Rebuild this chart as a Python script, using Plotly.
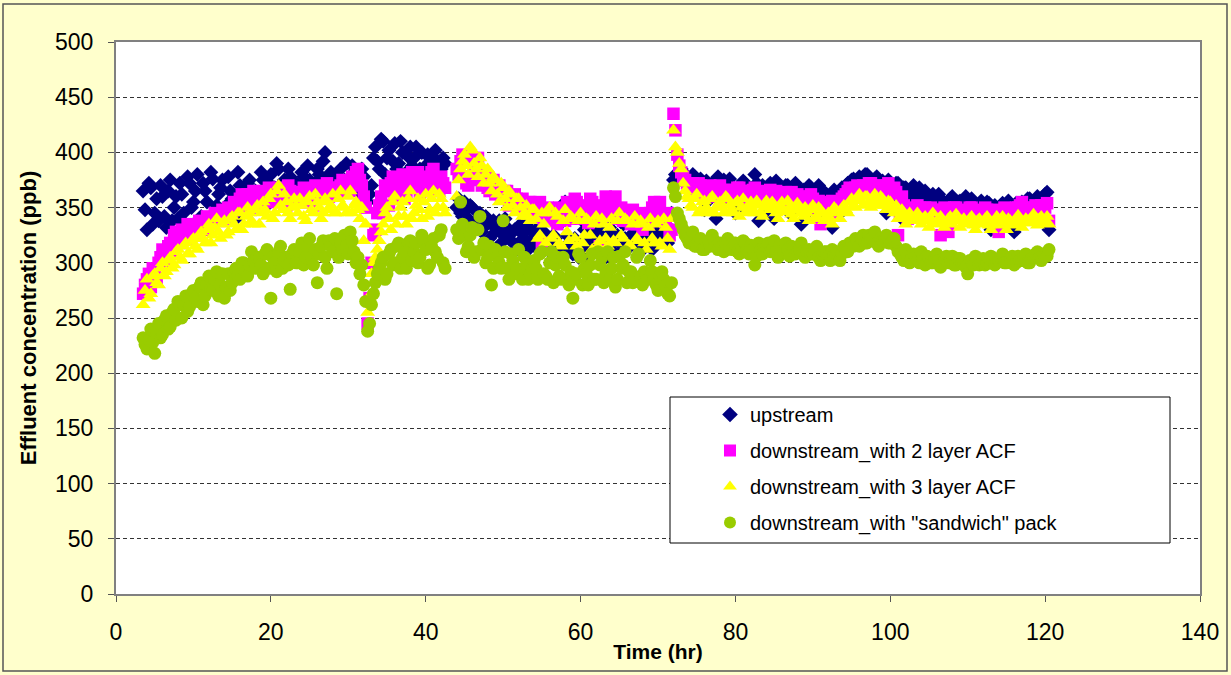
import numpy as np
import plotly.graph_objects as go

# Two sampling runs, 0.25 h apart: "a" readings on the half hour grid, "b" readings
# a quarter hour later.  Run 1 starts at 3.5 h, run 2 at 44.0 h.
RUN1_START = 3.5
RUN2_START = 44.0
STEP = 0.5
OFFSET = 0.25

# ---- upstream (ppb) ----
upstream_run1_a = [
    365, 330, 368, 345, 338, 360, 332, 375, 350, 340,
    362, 335, 372, 355, 380, 342, 365, 338, 376, 352,
    368, 345, 378, 358, 340, 370, 355, 372, 348, 365,
    360, 375, 352, 380, 368, 385, 372, 360, 378, 355,
    370, 382, 365, 375, 360, 385, 372, 400, 368, 378,
    362, 385, 375, 368, 388, 380, 372, 378, 355, 370,
    405, 385, 410, 395, 375, 408, 390, 400, 382, 405,
    395, 378, 400, 388, 395, 380, 392, 385, 390,
]
upstream_run1_b = [
    348, 372, 335, 358, 370, 342, 365, 338, 360, 372,
    345, 378, 350, 365, 340, 372, 355, 382, 345, 362,
    375, 352, 365, 345, 382, 360, 348, 375, 362, 352,
    382, 365, 372, 358, 390, 360, 375, 385, 365, 372,
    362, 378, 388, 355, 372, 380, 392, 375, 382, 365,
    378, 368, 390, 372, 382, 365, 385, 368, 362, 395,
    392, 412, 380, 402, 392, 385, 410, 378, 396, 388,
    405, 385, 375, 398, 385, 402, 378, 395,
]
upstream_run2_a = [
    350, 345, 355, 340, 350, 338, 345, 332, 340, 335,
    328, 338, 325, 332, 320, 330, 318, 326, 335, 315,
    322, 312, 340, 318, 310, 325, 345, 305, 355, 318,
    308, 348, 312, 330, 305, 325, 315, 335, 310, 320,
    328, 308, 318, 335, 312, 325, 340, 315, 322, 338,
    318, 330, 345, 325, 335, 330, 375, 380, 385, 378,
    372, 380, 365, 376, 348, 370, 372, 340, 368, 375,
    358, 370, 345, 368, 374, 352, 365, 380, 338, 370,
    362, 372, 340, 368, 360, 370, 345, 365, 368, 335,
    362, 370, 355, 366, 340, 364, 358, 332, 360, 365,
    348, 372, 375, 360, 378, 368, 380, 372, 376, 365,
    374, 345, 370, 366, 372, 340, 368, 364, 370, 362,
    358, 365, 355, 362, 352, 358, 335, 355, 360, 350,
    356, 348, 354, 358, 345, 352, 350, 355, 330, 352,
    348, 354, 345, 350, 328, 352, 355, 348, 358, 352,
    360, 355, 362, 330,
]
upstream_run2_b = [
    358, 342, 348, 352, 335, 345, 328, 342, 322, 338,
    332, 318, 340, 322, 328, 312, 335, 322, 312, 328,
    330, 318, 328, 345, 315, 322, 310, 338, 325, 312,
    322, 305, 338, 318, 345, 310, 328, 322, 305, 332,
    318, 325, 310, 322, 345, 318, 330, 310, 335, 325,
    312, 338, 322, 340, 318, 345, 380, 376, 382, 370,
    365, 378, 370, 362, 374, 358, 366, 378, 355, 368,
    376, 362, 368, 350, 372, 366, 358, 372, 364, 345,
    370, 358, 374, 362, 352, 370, 364, 372, 358, 366,
    345, 368, 362, 370, 356, 362, 348, 366, 352, 368,
    370, 362, 376, 372, 365, 380, 374, 368, 378, 372,
    368, 375, 360, 372, 364, 368, 360, 365, 356, 368,
    362, 350, 360, 345, 362, 356, 350, 358, 345, 355,
    352, 360, 338, 355, 350, 356, 348, 354, 350, 345,
    352, 340, 356, 350, 354, 345, 350, 358, 340, 356,
    352, 358, 364,
]

# ---- downstream, 2 layer ACF (ppb) ----
acf2_run1_a = [
    272, 285, 278, 292, 300, 312, 305, 318, 325, 320,
    330, 326, 322, 332, 328, 335, 330, 340, 336, 342,
    338, 345, 350, 346, 352, 358, 350, 362, 355, 360,
    352, 365, 358, 362, 355, 368, 360, 352, 365, 358,
    362, 355, 360, 366, 352, 362, 358, 365, 360, 368,
    362, 370, 365, 372, 378, 382, 375, 360, 245, 300,
    330, 352, 345, 365, 372, 358, 368, 380, 362, 375,
    368, 382, 365, 375, 370, 385, 372, 378, 368,
]
acf2_run1_b = [
    280, 290, 295, 285, 305, 298, 315, 310, 328, 318,
    325, 335, 330, 325, 338, 330, 342, 335, 345, 338,
    348, 340, 345, 355, 348, 362, 355, 350, 365, 358,
    362, 355, 368, 360, 365, 358, 362, 370, 355, 364,
    358, 368, 355, 362, 370, 358, 365, 372, 362, 365,
    368, 375, 370, 365, 375, 385, 370, 350, 268, 325,
    345, 360, 370, 352, 378, 365, 375, 358, 370, 382,
    372, 362, 378, 368, 382, 375, 365, 372,
]
acf2_run2_a = [
    385, 392, 378, 370, 395, 388, 375, 382, 368, 372,
    362, 370, 358, 365, 355, 362, 350, 358, 345, 355,
    348, 352, 318, 345, 340, 348, 335, 342, 338, 352,
    345, 355, 340, 348, 336, 355, 345, 315, 352, 358,
    345, 360, 342, 338, 345, 335, 342, 338, 330, 340,
    345, 355, 348, 340, 335, 325, 435, 398, 382, 375,
    368, 372, 365, 370, 362, 368, 365, 360, 370, 364,
    360, 366, 362, 368, 358, 365, 362, 368, 356, 364,
    360, 366, 358, 362, 355, 364, 360, 352, 362, 356,
    360, 350, 358, 354, 335, 352, 348, 356, 350, 355,
    360, 365, 362, 368, 365, 370, 366, 372, 368, 364,
    370, 366, 362, 368, 325, 360, 345, 350, 348, 352,
    345, 350, 342, 348, 345, 325, 350, 328, 346, 350,
    342, 348, 345, 350, 340, 346, 342, 348, 345, 340,
    328, 346, 342, 348, 344, 350, 355, 348, 345, 350,
    346, 352, 350, 338,
]
acf2_run2_b = [
    380, 398, 372, 392, 380, 395, 370, 378, 365, 375,
    368, 360, 365, 352, 360, 358, 352, 348, 355, 350,
    342, 355, 338, 350, 345, 338, 350, 345, 355, 340,
    358, 342, 352, 345, 358, 338, 350, 342, 360, 348,
    355, 340, 350, 345, 338, 348, 335, 345, 342, 335,
    350, 342, 355, 338, 345, 330, 420, 388, 378, 372,
    365, 368, 372, 362, 366, 370, 362, 368, 360, 366,
    364, 360, 368, 362, 365, 360, 366, 358, 362, 365,
    362, 358, 365, 360, 362, 356, 364, 358, 360, 354,
    356, 362, 352, 356, 348, 355, 350, 345, 352, 358,
    362, 368, 365, 370, 368, 364, 372, 368, 365, 370,
    365, 372, 366, 364, 345, 352, 340, 348, 345, 350,
    348, 344, 350, 345, 340, 348, 345, 342, 350, 345,
    346, 342, 350, 345, 348, 344, 350, 342, 346, 348,
    345, 350, 342, 346, 350, 352, 346, 350, 348, 352,
    350, 348, 354,
]

# ---- downstream, 3 layer ACF (ppb) ----
acf3_run1_a = [
    262, 285, 272, 290, 280, 300, 292, 305, 298, 312,
    302, 318, 308, 322, 312, 328, 318, 335, 325, 340,
    322, 338, 328, 342, 330, 345, 335, 350, 338, 348,
    335, 355, 342, 362, 345, 370, 348, 355, 340, 358,
    345, 352, 338, 360, 345, 355, 340, 358, 348, 362,
    345, 365, 350, 360, 345, 355, 340, 320, 255, 290,
    305, 320, 335, 350, 330, 360, 342, 355, 335, 365,
    345, 358, 340, 362, 348, 365, 350, 358, 345,
]
acf3_run1_b = [
    275, 268, 288, 282, 295, 288, 302, 295, 310, 305,
    315, 308, 320, 315, 325, 322, 330, 318, 332, 328,
    335, 325, 340, 335, 345, 330, 342, 345, 335, 352,
    345, 348, 358, 340, 365, 352, 362, 345, 350, 352,
    358, 342, 355, 348, 362, 350, 345, 355, 352, 345,
    358, 352, 345, 365, 352, 348, 350, 335, 270, 300,
    312, 328, 345, 340, 355, 335, 350, 342, 358, 340,
    352, 348, 355, 342, 358, 345, 362, 350,
]
acf3_run2_a = [
    360, 385, 398, 380, 402, 385, 395, 372, 385, 365,
    375, 355, 368, 350, 362, 345, 358, 342, 352, 338,
    348, 322, 345, 318, 350, 325, 342, 315, 348, 320,
    340, 315, 345, 325, 338, 312, 342, 320, 335, 315,
    340, 318, 345, 322, 338, 315, 342, 320, 335, 312,
    340, 318, 338, 315, 332, 312, 420, 400, 385, 365,
    358, 350, 362, 348, 356, 345, 360, 350, 355, 345,
    358, 348, 354, 342, 358, 350, 355, 345, 352, 342,
    356, 348, 352, 340, 355, 346, 350, 340, 354, 345,
    350, 338, 352, 342, 348, 338, 345, 335, 348, 340,
    352, 345, 358, 350, 362, 352, 360, 350, 362, 352,
    358, 348, 355, 345, 340, 348, 335, 345, 338, 345,
    335, 342, 332, 345, 336, 342, 332, 340, 335, 344,
    332, 340, 335, 342, 330, 340, 335, 342, 330, 338,
    334, 342, 330, 338, 335, 343, 332, 340, 336, 344,
    334, 342, 338, 335,
]
acf3_run2_b = [
    375, 392, 388, 405, 390, 378, 388, 380, 372, 378,
    362, 372, 358, 365, 352, 358, 350, 345, 342, 348,
    340, 325, 335, 345, 322, 345, 318, 338, 328, 342,
    322, 338, 318, 340, 325, 335, 315, 340, 322, 332,
    320, 338, 325, 340, 316, 335, 322, 338, 318, 332,
    322, 335, 318, 340, 322, 340, 405, 390, 372, 360,
    352, 358, 345, 355, 350, 358, 345, 352, 350, 360,
    352, 345, 356, 350, 345, 352, 348, 356, 345, 350,
    350, 355, 345, 350, 348, 356, 344, 348, 350, 342,
    345, 348, 340, 350, 345, 342, 340, 350, 345, 348,
    348, 355, 352, 358, 356, 360, 355, 358, 356, 360,
    352, 356, 350, 352, 345, 340, 342, 338, 342, 340,
    340, 338, 340, 335, 340, 338, 336, 342, 338, 340,
    338, 336, 340, 334, 338, 336, 340, 334, 336, 342,
    338, 336, 340, 334, 338, 340, 336, 338, 340, 338,
    340, 336, 342,
]

# ---- downstream, "sandwich" pack (ppb) ----
sandwich_run1_a = [
    232, 222, 240, 218, 245, 235, 252, 242, 258, 265,
    250, 270, 260, 275, 265, 282, 270, 288, 275, 292,
    280, 268, 290, 282, 295, 285, 300, 288, 310, 295,
    305, 290, 312, 268, 300, 310, 295, 305, 276, 312,
    300, 318, 305, 322, 298, 282, 315, 305, 320, 310,
    272, 318, 325, 308, 320, 300, 290, 280, 238, 262,
    282, 295, 305, 290, 312, 300, 318, 305, 295, 320,
    310, 300, 325, 312, 298, 322, 305, 330, 295,
]
sandwich_run1_b = [
    226, 230, 228, 238, 232, 248, 240, 255, 248, 262,
    262, 256, 272, 268, 278, 262, 280, 276, 285, 270,
    290, 278, 275, 292, 288, 300, 292, 298, 302, 305,
    298, 308, 295, 305, 292, 315, 302, 298, 308, 300,
    310, 298, 315, 305, 312, 308, 320, 295, 315, 322,
    305, 312, 315, 328, 310, 305, 298, 265, 245, 272,
    290, 300, 285, 308, 298, 315, 295, 310, 318, 302,
    318, 305, 320, 295, 315, 310, 325, 300,
]
sandwich_run2_a = [
    330, 355, 325, 315, 332, 310, 342, 318, 305, 280,
    312, 300, 338, 295, 308, 290, 312, 285, 298, 290,
    302, 285, 310, 288, 300, 282, 305, 285, 298, 280,
    268, 290, 305, 295, 280, 308, 285, 298, 282, 310,
    295, 278, 306, 298, 282, 292, 285, 308, 280, 290,
    302, 285, 275, 292, 280, 270, 368, 345, 335, 325,
    318, 328, 315, 322, 312, 320, 325, 315, 318, 310,
    322, 312, 318, 308, 320, 312, 316, 298, 318, 308,
    315, 310, 320, 305, 312, 318, 306, 314, 310, 318,
    305, 312, 308, 315, 302, 310, 305, 312, 308, 302,
    315, 310, 318, 322, 315, 325, 318, 322, 328, 315,
    320, 325, 318, 322, 310, 305, 312, 300, 308, 302,
    310, 298, 305, 300, 308, 296, 304, 300, 306, 298,
    304, 300, 290, 302, 306, 298, 304, 300, 306, 298,
    302, 308, 300, 304, 298, 306, 302, 308, 300, 305,
    310, 302, 306, 312,
]
sandwich_run2_b = [
    322, 335, 310, 325, 305, 330, 312, 300, 315, 295,
    305, 295, 310, 285, 302, 295, 290, 305, 285, 295,
    295, 308, 290, 285, 310, 298, 288, 305, 285, 292,
    285, 308, 280, 290, 298, 285, 310, 305, 290, 285,
    305, 285, 295, 310, 292, 282, 305, 288, 292, 285,
    292, 280, 288, 285, 272, 282, 360, 340, 330, 322,
    322, 315, 320, 312, 318, 315, 320, 312, 315, 318,
    315, 318, 310, 315, 318, 308, 312, 306, 312, 315,
    318, 312, 310, 316, 310, 312, 315, 308, 312, 310,
    310, 308, 312, 305, 308, 310, 302, 306, 310, 308,
    312, 318, 315, 320, 322, 318, 325, 320, 318, 322,
    322, 318, 320, 315, 308, 302, 306, 304, 305, 300,
    302, 306, 300, 304, 302, 300, 306, 302, 298, 304,
    300, 296, 302, 298, 304, 300, 298, 304, 302, 300,
    305, 300, 302, 306, 300, 302, 305, 300, 304, 308,
    304, 308, 306,
]


def run_times(values, start):
    return start + STEP * np.arange(len(values))


def build(r1a, r1b, r2a, r2b):
    t = np.concatenate([
        run_times(r1a, RUN1_START), run_times(r1b, RUN1_START + OFFSET),
        run_times(r2a, RUN2_START), run_times(r2b, RUN2_START + OFFSET),
    ])
    v = np.array(r1a + r1b + r2a + r2b, dtype=float)
    order = np.argsort(t, kind="stable")
    return t[order], v[order]


SERIES = [
    ("upstream", (upstream_run1_a, upstream_run1_b, upstream_run2_a, upstream_run2_b),
     "diamond", "#000080", 11.5),
    ("downstream_with 2 layer ACF", (acf2_run1_a, acf2_run1_b, acf2_run2_a, acf2_run2_b),
     "square", "#FF00FF", 12.5),
    ("downstream_with 3 layer ACF", (acf3_run1_a, acf3_run1_b, acf3_run2_a, acf3_run2_b),
     "triangle-up", "#FFFF00", 13),
    ("downstream_with \"sandwich\" pack", (sandwich_run1_a, sandwich_run1_b, sandwich_run2_a, sandwich_run2_b),
     "circle", "#99CC00", 13),
]

FONT = "Arial, Liberation Sans, sans-serif"

fig = go.Figure()
for i, (name, runs, sym, col, size) in enumerate(SERIES):
    t, v = build(*runs)
    fig.add_trace(go.Scatter(
        x=t, y=v, mode="markers", name=name, legendgroup=f"g{i}",
        marker=dict(symbol=sym, color=col, size=size, line=dict(width=0)),
    ))

# plot area in pixels: x 116..1200, y 42..594
L, R, T, B = 116, 31, 42, 81
W, H = 1231, 675
pw, ph = W - L - R, H - T - B


def px_x(p):
    return (p - L) / pw


def px_y(p):
    return (H - B - p) / ph


fig.update_layout(
    width=W, height=H,
    margin=dict(l=L, r=R, t=T, b=B, pad=0),
    paper_bgcolor="#FFFFCC",
    plot_bgcolor="#FFFFFF",
    font=dict(family=FONT, color="#000000"),
    showlegend=True,
    legend=dict(
        x=px_x(710), y=px_y(395), xanchor="left", yanchor="top",
        bgcolor="rgba(0,0,0,0)", borderwidth=0,
        font=dict(size=20, family=FONT, color="#000000"),
        tracegroupgap=7, traceorder="grouped", itemsizing="constant",
    ),
    shapes=[
        # legend frame
        dict(type="rect", xref="paper", yref="paper",
             x0=px_x(670), x1=px_x(1170), y0=px_y(543), y1=px_y(397),
             fillcolor="#FFFFFF", line=dict(color="#000000", width=1), layer="above"),
        # chart outer border
        dict(type="rect", xref="paper", yref="paper",
             x0=px_x(3), x1=px_x(1227), y0=px_y(671), y1=px_y(4),
             fillcolor="rgba(0,0,0,0)", line=dict(color="#555555", width=1.5), layer="below"),
    ],
)

fig.update_xaxes(
    range=[0, 140], tickvals=list(range(0, 141, 20)),
    showgrid=False, zeroline=False,
    showline=True, mirror=True, linecolor="#808080", linewidth=2,
    ticks="outside", ticklen=6, tickcolor="#555555", tickwidth=1,
    tickfont=dict(size=23, family=FONT), ticklabelstandoff=10,
    title=dict(text="<b>Time (hr)</b>", font=dict(size=21, family=FONT), standoff=1),
)
fig.update_yaxes(
    range=[0, 500], tickvals=list(range(0, 501, 50)),
    showgrid=True, gridcolor="#333333", gridwidth=1, griddash="4px,3px",
    zeroline=False,
    showline=True, mirror=True, linecolor="#808080", linewidth=2,
    ticks="outside", ticklen=6, tickcolor="#555555", tickwidth=1,
    tickfont=dict(size=23, family=FONT), ticklabelstandoff=10,
    title=dict(text="<b>Effluent concentration (ppb)</b>", font=dict(size=22, family=FONT), standoff=12),
)

fig.write_html("out.html")
